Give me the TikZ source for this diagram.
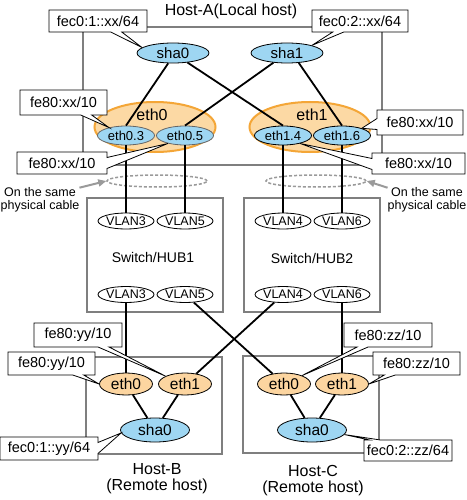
\documentclass[tikz,border=0pt]{standalone}
\usepackage{fontspec}
\setmainfont{Liberation Sans}
\usetikzlibrary{shapes.geometric,shapes.callouts,arrows.meta}
\definecolor{skyb}{HTML}{9ED6F2}
\definecolor{orfill}{HTML}{FCD9A4}
\definecolor{orline}{HTML}{F4A637}
\definecolor{remfill}{HTML}{FCD5A0}
\definecolor{boxgray}{HTML}{7F7F7F}
\definecolor{dashgray}{HTML}{9A9A9A}
\newcommand{\fsz}[1]{\fontsize{#1}{#1}\selectfont}
\tikzset{
  hostbox/.style={draw=boxgray,line width=1.5pt,inner sep=0pt},
  shabox/.style={ellipse,draw=black,line width=0.8pt,fill=skyb,inner sep=0pt,font=\fsz{15}},
  bigeth/.style={ellipse,draw=orline,line width=2pt,fill=orfill,inner sep=0pt,minimum width=121pt,minimum height=50pt},
  vlaneth/.style={ellipse,line width=0.8pt,fill=skyb,inner sep=0pt,minimum width=57pt,minimum height=19pt,font=\fsz{13}},
  vlanbox/.style={ellipse,draw=black,line width=0.8pt,fill=white,inner sep=0pt,minimum width=54pt,minimum height=16pt,font=\fsz{12.5}},
  remeth/.style={ellipse,draw=black,line width=0.8pt,fill=remfill,inner sep=0pt,minimum width=53pt,minimum height=22pt,font=\fsz{15.5}},
  dashring/.style={ellipse,draw=dashgray,line width=1.5pt,dash pattern=on 3pt off 2pt,inner sep=0pt,minimum width=100pt,minimum height=12pt},
  link/.style={draw=black,line width=1.8pt},
  grayarrow/.style={draw=dashgray,line width=2pt,-{Triangle[length=8pt,width=7pt]}},
  lab/.style={rectangle callout,draw=black,fill=white,line width=0.8pt,inner sep=0pt,font=\fsz{14.5},callout pointer width=11pt},
  txt/.style={inner sep=0pt,align=center},
}
\begin{document}
\begin{tikzpicture}[x=1pt,y=-1pt]
\useasboundingbox[fill=white] (0,0) rectangle (466,500);

% boxes
\node[hostbox,minimum width=299pt,minimum height=138pt] (hostA) at (232.5,96) {};
\node[hostbox,minimum width=136pt,minimum height=114pt] (hub1) at (155,255) {};
\node[hostbox,minimum width=136pt,minimum height=114pt] (hub2) at (312,255) {};
\node[hostbox,minimum width=136pt,minimum height=97pt] (hostB) at (154,405.5) {};
\node[hostbox,minimum width=136pt,minimum height=97pt] (hostC) at (311,404.5) {};

% titles
\node[txt,font=\fsz{16}] (tA) at (231,11) {Host-A(Local host)};
\node[txt,font=\fsz{14}] (tH1) at (153,257) {Switch/HUB1};
\node[txt,font=\fsz{14}] (tH2) at (312,258) {Switch/HUB2};
\node[txt,font=\fsz{16}] (tB) at (157,479) {Host-B\\(Remote host)};
\node[txt,font=\fsz{16}] (tC) at (313,481) {Host-C\\(Remote host)};
\node[txt,font=\fsz{12.5}] (noteL) at (40,200) {On the same\\physical cable};
\node[txt,font=\fsz{12.5}] (noteR) at (427,200) {On the same\\physical cable};

% dashed rings
\node[dashring] (dashL) at (157,181) {};
\node[dashring] (dashR) at (316,181) {};

% big eth ellipses
\node[bigeth] (eth0) at (155,127) {};
\node[bigeth] (eth1) at (310,127) {};
\node[txt,font=\fsz{16}] (eth0t) at (152,115) {eth0};
\node[txt,font=\fsz{16}] (eth1t) at (312,115) {eth1};

% host A nodes
\node[shabox,minimum width=72pt,minimum height=20pt] (sha0) at (173,53) {sha0};
\node[shabox,minimum width=72pt,minimum height=20pt] (sha1) at (287,53) {sha1};
\node[vlaneth,draw=black!60] (eth03) at (126,135.5) {eth0.3};
\node[vlaneth,draw=black!60] (eth05) at (185,135.5) {eth0.5};
\node[vlaneth,draw=black] (eth14) at (283,135.5) {eth1.4};
\node[vlaneth,draw=black] (eth16) at (342,135.5) {eth1.6};

% vlans
\node[vlanbox] (v3t) at (126,221) {VLAN3};
\node[vlanbox] (v5t) at (185,221) {VLAN5};
\node[vlanbox] (v4t) at (283,221) {VLAN4};
\node[vlanbox] (v6t) at (342,221) {VLAN6};
\node[vlanbox] (v3b) at (126,294.5) {VLAN3};
\node[vlanbox] (v5b) at (185,294.5) {VLAN5};
\node[vlanbox] (v4b) at (283,294.5) {VLAN4};
\node[vlanbox] (v6b) at (342,294.5) {VLAN6};

% remote hosts
\node[remeth] (beth0) at (126,384) {eth0};
\node[remeth] (beth1) at (185,384) {eth1};
\node[shabox,minimum width=69pt,minimum height=24pt,font=\fsz{15.5}] (bsha0) at (155,430) {sha0};
\node[remeth] (ceth0) at (284,384) {eth0};
\node[remeth] (ceth1) at (342,384) {eth1};
\node[shabox,minimum width=69pt,minimum height=24pt,font=\fsz{15.5}] (csha0) at (312,430) {sha0};

% links
\draw[link] (sha0.-115) -- (eth03.north);
\draw[link] (sha0) -- (eth14.north);
\draw[link] (sha1) -- (eth05.north);
\draw[link] (sha1.-40) -- (eth16.north);
\draw[link] (eth03.south) -- (v3t.north);
\draw[link] (eth05.south) -- (v5t.north);
\draw[link] (eth14.south) -- (v4t.north);
\draw[link] (eth16.south) -- (v6t.north);
\draw[link] (v3b.south) -- (beth0.north);
\draw[link] (v6b.south) -- (ceth1.north);
\draw[link] (v5b) -- (ceth0);
\draw[link] (v4b) -- (beth1);
\draw[link] (beth0) -- (bsha0);
\draw[link] (beth1) -- (bsha0);
\draw[link] (ceth0) -- (csha0);
\draw[link] (ceth1) -- (csha0);

% gray arrows
\draw[grayarrow] (noteL.north east) -- (dashL.west);
\draw[grayarrow] (noteR.north west) -- (dashR.east);

% callout labels
\node[lab,minimum width=98pt,minimum height=22pt,callout absolute pointer={(sha0.170)}] (l1) at (98,21) {fec0:1::xx/64};
\node[lab,minimum width=96pt,minimum height=22pt,callout absolute pointer={(sha1.17)}] (l2) at (360,21) {fec0:2::xx/64};
\node[lab,minimum width=87pt,minimum height=25pt,callout absolute pointer={(eth03.155)}] (l3) at (63.5,102.5) {fe80:xx/10};
\node[lab,minimum width=86pt,minimum height=25pt,callout absolute pointer={(eth16.20)}] (l4) at (420,122.5) {fe80:xx/10};
\node[lab,minimum width=90pt,minimum height=22pt,callout absolute pointer={(eth05.-155)}] (l5) at (62,163) {fe80:xx/10};
\node[lab,minimum width=93pt,minimum height=21pt,callout absolute pointer={(eth14.-25)}] (l6) at (418.5,163.5) {fe80:xx/10};
\node[lab,minimum width=88pt,minimum height=24pt,callout absolute pointer={(beth1.158)}] (l7) at (78,335) {fe80:yy/10};
\node[lab,minimum width=87pt,minimum height=23pt,callout absolute pointer={(beth0.west)}] (l8) at (51.5,363.5) {fe80:yy/10};
\node[lab,minimum width=98pt,minimum height=23pt,callout absolute pointer={(bsha0.185)}] (l9) at (49,448.5) {fec0:1::yy/64};
\node[lab,minimum width=88pt,minimum height=24pt,callout absolute pointer={(ceth0.25)}] (l10) at (388,335) {fe80:zz/10};
\node[lab,minimum width=87pt,minimum height=23pt,callout absolute pointer={(ceth1.east)}] (l11) at (416.5,363.5) {fe80:zz/10};
\node[lab,minimum width=88pt,minimum height=21pt,callout absolute pointer={(csha0.-8)}] (l12) at (408,450.5) {fec0:2::zz/64};
\end{tikzpicture}
\end{document}
